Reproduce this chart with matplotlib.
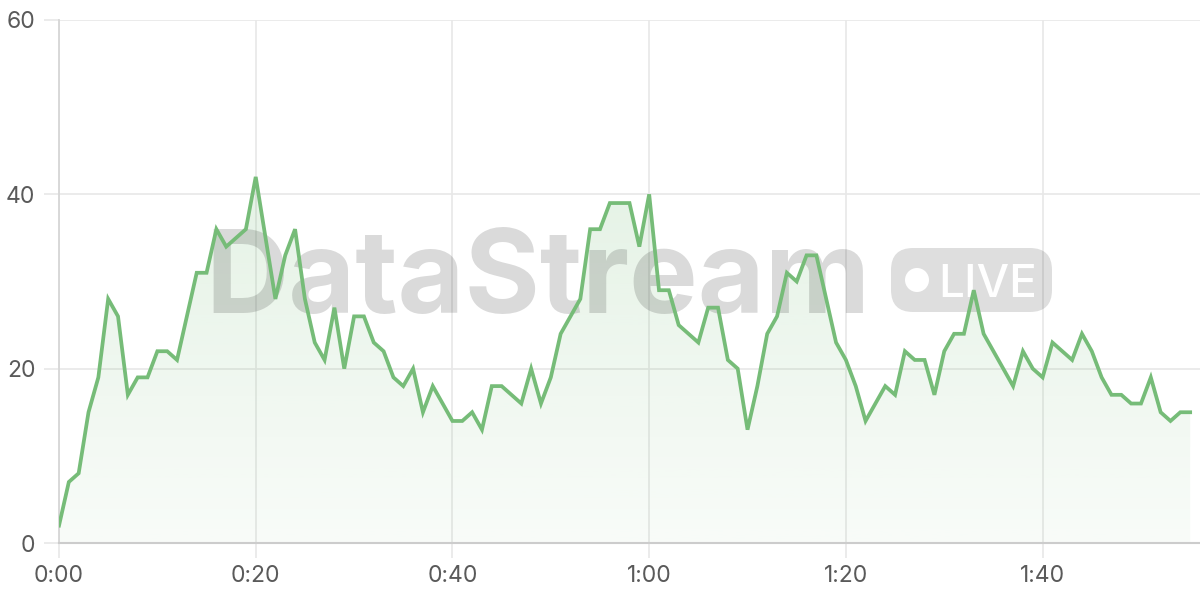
import numpy as np
import matplotlib
matplotlib.use("Agg")
import matplotlib.pyplot as plt
from matplotlib.patches import FancyBboxPatch, Circle
from matplotlib.transforms import Affine2D

# seconds since start, one sample per second
values = [2, 7, 8, 15, 19, 28, 26, 17, 19, 19, 22, 22, 21, 26, 31, 31, 36, 34, 35, 36,
          42, 35, 28, 33, 36, 28, 23, 21, 27, 20, 26, 26, 23, 22, 19, 18, 20, 15, 18, 16,
          14, 14, 15, 13, 18, 18, 17, 16, 20, 16, 19, 24, 26, 28, 36, 36, 39, 39, 39, 34,
          40, 29, 29, 25, 24, 23, 27, 27, 21, 20, 13, 18, 24, 26, 31, 30, 33, 33, 28, 23,
          21, 18, 14, 16, 18, 17, 22, 21, 21, 17, 22, 24, 24, 29, 24, 22, 20, 18, 22, 20,
          19, 23, 22, 21, 24, 22, 19, 17, 17, 16, 16, 19, 15, 14, 15, 15]
seconds = np.arange(len(values))
x_ticks = [0, 20, 40, 60, 80, 100]
x_labels = ["0:00", "0:20", "0:40", "1:00", "1:20", "1:40"]
y_ticks = [0, 20, 40, 60]

line_color = "#76bc78"
grid_color = "#e8e8e8"
text_color = "#5a5a5a"
plt.rcParams["font.family"] = ["Inter", "DejaVu Sans"]

fig = plt.figure(figsize=(12, 6), dpi=100)
ax = fig.add_axes([59 / 1200, 57 / 600, 1141 / 1200, 523 / 600])
ax.set_xlim(0, 116)
ax.set_ylim(0, 60)

# gradient fill under the line
poly = ax.fill_between(seconds, values, 0, color="none", lw=0)
grad = np.zeros((200, 1, 4))
grad[..., 0] = 118 / 255
grad[..., 1] = 188 / 255
grad[..., 2] = 120 / 255
grad[:, 0, 3] = np.linspace(0.25, 0.05, 200)
img = ax.imshow(grad, aspect="auto", extent=[0, 116, 0, 60], origin="upper", zorder=1)
img.set_clip_path(poly.get_paths()[0], transform=ax.transData)

# watermark + badge, positioned in pixels from the top-left corner
px = Affine2D().scale(1, -1).translate(0, 600)
ax.text(538, 313, "DataStream", transform=px, fontsize=83, fontweight="bold",
        color="black", alpha=0.145, ha="center", va="baseline", zorder=2)
badge = FancyBboxPatch((891, 248), 161, 64, boxstyle="round,pad=0,rounding_size=22",
                       transform=px, facecolor="black", alpha=0.13, lw=0, zorder=2, clip_on=False)
ax.add_patch(badge)
ax.add_patch(Circle((917, 280), 12, transform=px, facecolor="white", lw=0, zorder=2.1))
ax.text(938, 297, "LIVE", transform=px, fontsize=33, fontweight="medium", color="white",
        ha="left", va="baseline", zorder=2.1)

ax.plot(seconds, values, color=line_color, lw=2.7, zorder=3, solid_joinstyle="miter")

ax.set_xticks(x_ticks)
ax.set_xticklabels(x_labels)
ax.set_yticks(y_ticks)
ax.grid(True, color=grid_color, lw=1.2, zorder=0)
ax.set_axisbelow(True)
for s in ["top", "right"]:
    ax.spines[s].set_visible(False)
ax.spines["left"].set_color("#d6d6d6")
ax.spines["left"].set_linewidth(1.3)
ax.spines["bottom"].set_color("#cccccc")
ax.spines["bottom"].set_linewidth(1.5)
ax.tick_params(axis="both", length=11, width=1.2, color=grid_color,
               labelcolor=text_color, labelsize=16.5)
ax.tick_params(axis="y", pad=6)
ax.tick_params(axis="x", pad=5)

fig.savefig("out.png", dpi=100)
